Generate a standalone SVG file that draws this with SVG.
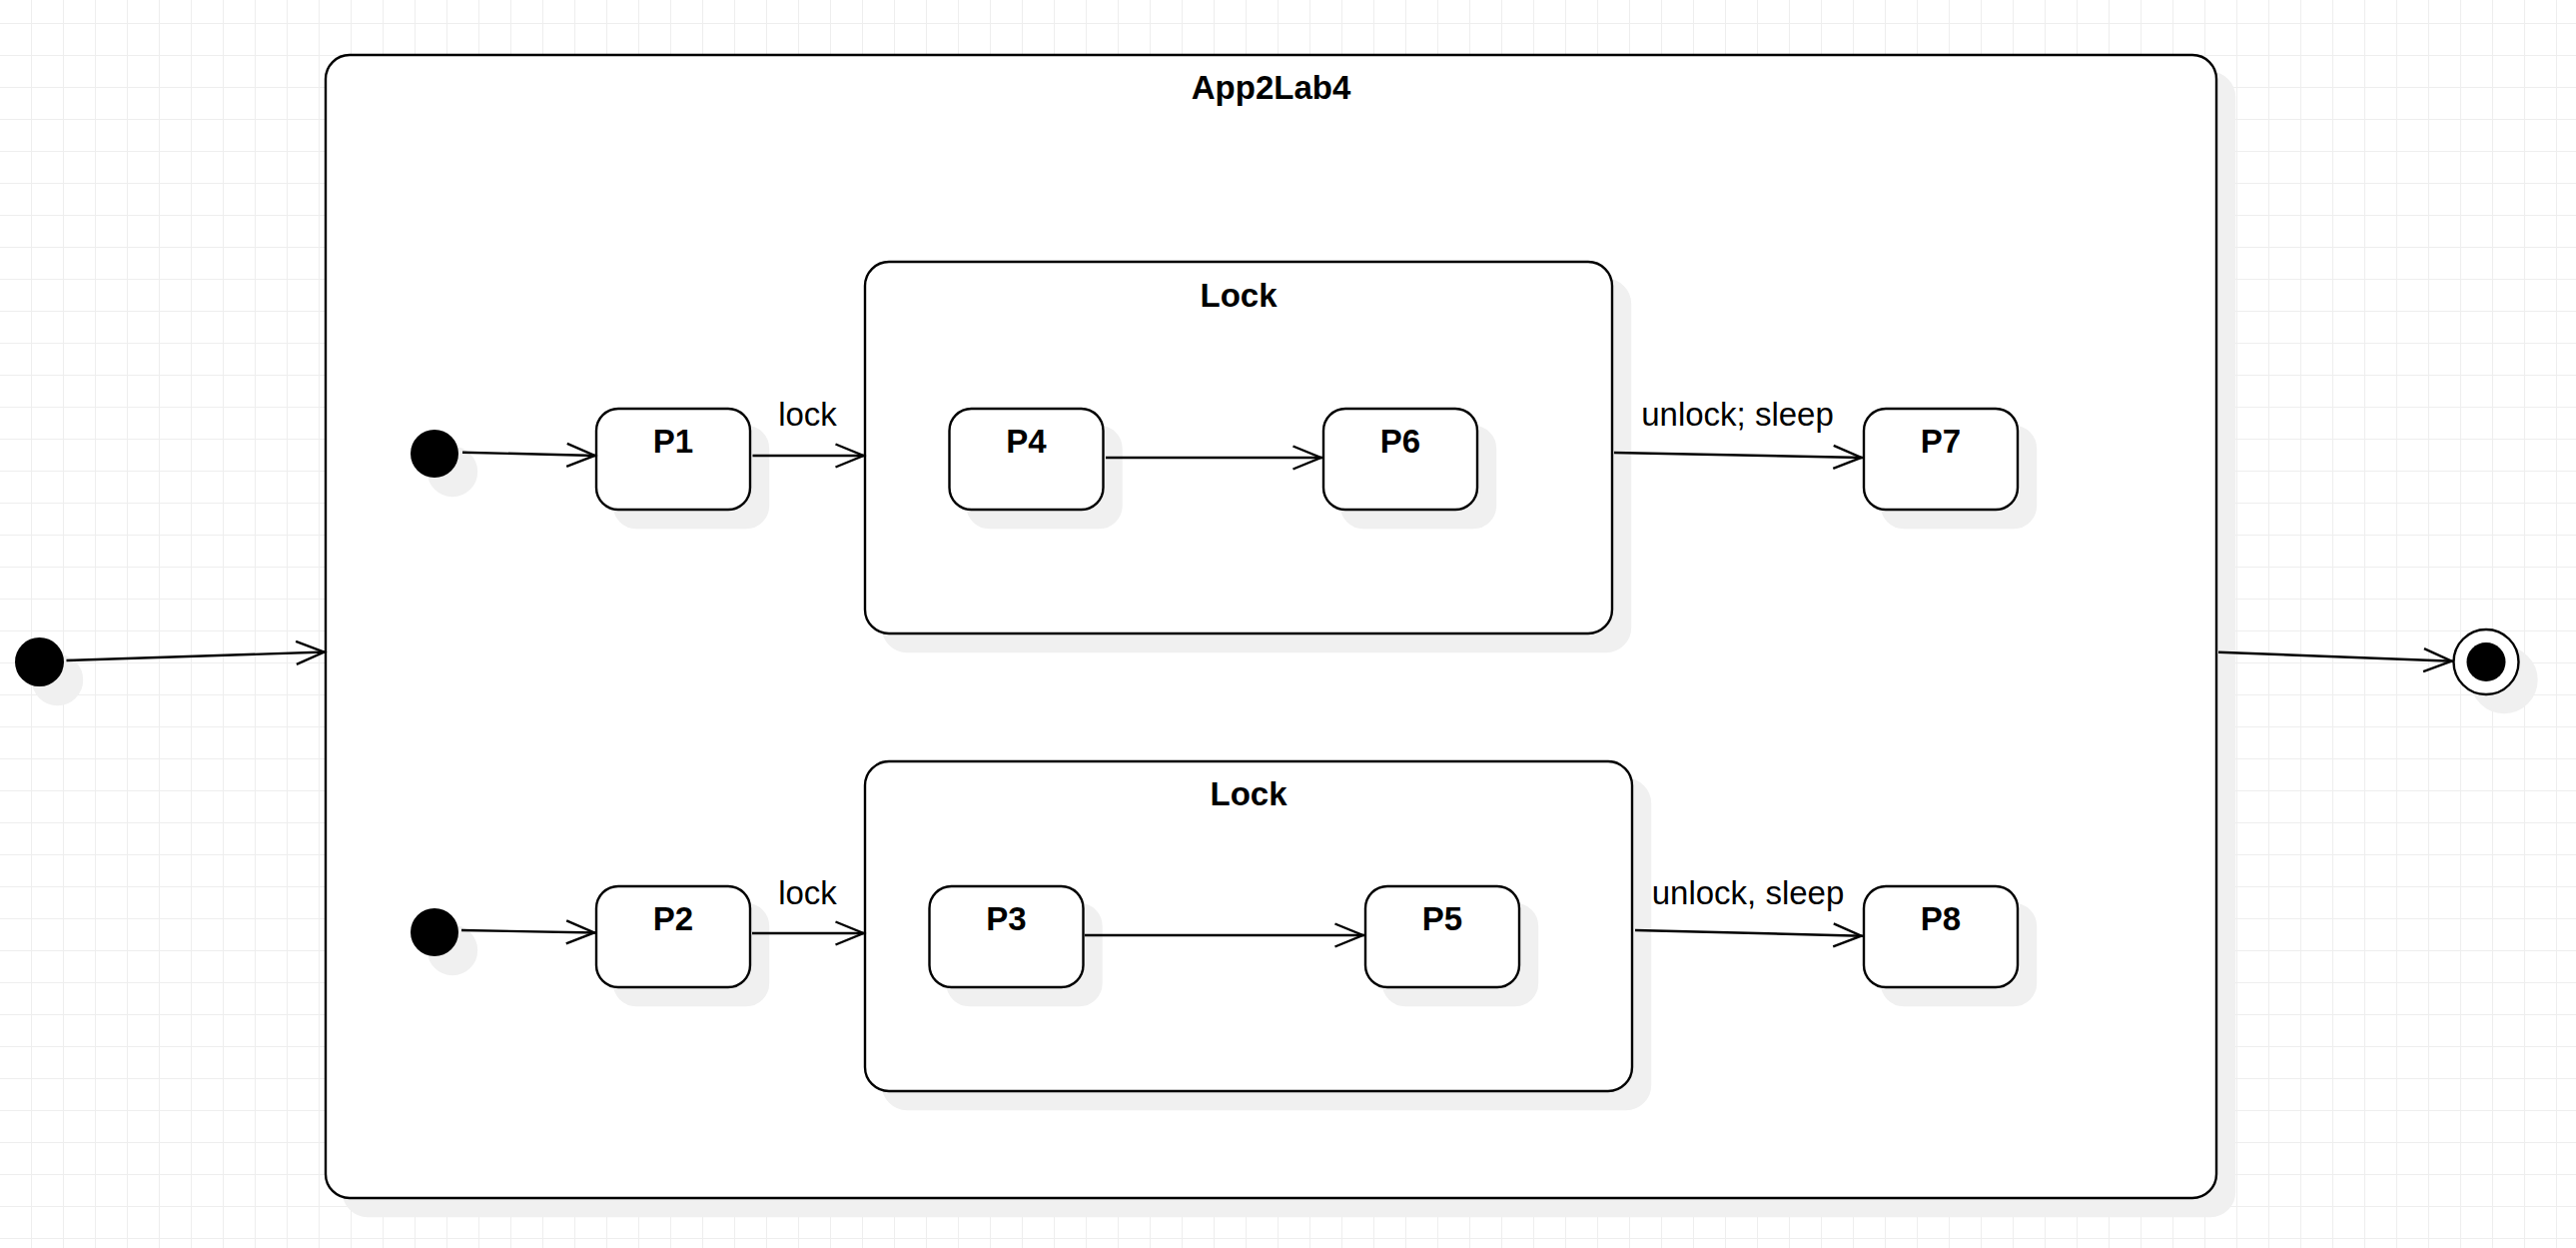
<svg xmlns="http://www.w3.org/2000/svg" width="2579" height="1249" viewBox="0 0 2579 1249">
  <defs>
    <pattern id="grid" patternUnits="userSpaceOnUse" x="31" y="23" width="32" height="32">
      <rect x="0" y="0" width="1" height="32" fill="#eeeeee"/>
      <rect x="0" y="0" width="32" height="1" fill="#eeeeee"/>
    </pattern>
    <marker id="open" markerUnits="userSpaceOnUse" viewBox="-32 -16 36 32" markerWidth="36" markerHeight="32" refX="1.5" refY="0" orient="auto">
      <path d="M -28 -11.5 L 0 0 L -28 11.5" fill="none" stroke="#000" stroke-width="2.4"/>
    </marker>
  </defs>
  <style>
    .state { fill: #ffffff; stroke: #000000; stroke-width: 2.4; }
    .shadow { fill: #f0f0f0; stroke: #f0f0f0; stroke-width: 2.4; }
    .dot { fill: #000000; }
    .edge { fill: none; stroke: #000000; stroke-width: 2.4; marker-end: url(#open); }
    .title { font-family: "Liberation Sans", Arial, sans-serif; font-weight: bold; font-size: 33px; text-anchor: middle; fill: #000; }
    .label { font-family: "Liberation Sans", Arial, sans-serif; font-size: 33px; text-anchor: middle; fill: #000; }
  </style>

  <!-- canvas -->
  <rect x="0" y="0" width="2579" height="1249" fill="#ffffff"/>
  <rect x="0" y="0" width="2579" height="1249" fill="url(#grid)"/>

  <!-- outer initial state -->
  <g id="start">
    <circle class="shadow" cx="57.5" cy="680.5" r="24.5"/>
    <circle class="dot" cx="39.5" cy="662.5" r="24.5"/>
  </g>

  <!-- composite state App2Lab4 -->
  <g id="app2lab4">
    <rect class="shadow" x="344" y="73" width="1893" height="1144" rx="24"/>
    <rect class="state" x="326" y="55" width="1893" height="1144" rx="24"/>
    <text class="title" x="1272.5" y="99">App2Lab4</text>
  </g>

  <!-- final state -->
  <g id="end">
    <circle class="shadow" cx="2507" cy="680.5" r="32.5"/>
    <circle class="state" cx="2489" cy="662.5" r="32.5"/>
    <circle class="dot" cx="2489" cy="662.5" r="19.5"/>
  </g>

  <!-- region 1 -->
  <g id="init1">
    <circle class="shadow" cx="453" cy="472" r="24"/>
    <circle class="dot" cx="435" cy="454" r="24"/>
  </g>
  <g id="p1">
    <rect class="shadow" x="615" y="427" width="154" height="101" rx="22"/>
    <rect class="state" x="597" y="409" width="154" height="101" rx="22"/>
    <text class="title" x="674" y="452.5">P1</text>
  </g>
  <g id="lock1">
    <rect class="shadow" x="884" y="280" width="748" height="372" rx="24"/>
    <rect class="state" x="866" y="262" width="748" height="372" rx="24"/>
    <text class="title" x="1240" y="306.5">Lock</text>
  </g>
  <g id="p4">
    <rect class="shadow" x="968.5" y="427" width="154" height="101" rx="22"/>
    <rect class="state" x="950.5" y="409" width="154" height="101" rx="22"/>
    <text class="title" x="1027.5" y="452.5">P4</text>
  </g>
  <g id="p6">
    <rect class="shadow" x="1343" y="427" width="154" height="101" rx="22"/>
    <rect class="state" x="1325" y="409" width="154" height="101" rx="22"/>
    <text class="title" x="1402" y="452.5">P6</text>
  </g>
  <g id="p7">
    <rect class="shadow" x="1884" y="427" width="154" height="101" rx="22"/>
    <rect class="state" x="1866" y="409" width="154" height="101" rx="22"/>
    <text class="title" x="1943" y="452.5">P7</text>
  </g>

  <!-- region 2 -->
  <g id="init2">
    <circle class="shadow" cx="453" cy="951" r="24"/>
    <circle class="dot" cx="435" cy="933" r="24"/>
  </g>
  <g id="p2">
    <rect class="shadow" x="615" y="905" width="154" height="101" rx="22"/>
    <rect class="state" x="597" y="887" width="154" height="101" rx="22"/>
    <text class="title" x="674" y="930.5">P2</text>
  </g>
  <g id="lock2">
    <rect class="shadow" x="884" y="780" width="768" height="330" rx="24"/>
    <rect class="state" x="866" y="762" width="768" height="330" rx="24"/>
    <text class="title" x="1250" y="806">Lock</text>
  </g>
  <g id="p3">
    <rect class="shadow" x="948.5" y="905" width="154" height="101" rx="22"/>
    <rect class="state" x="930.5" y="887" width="154" height="101" rx="22"/>
    <text class="title" x="1007.5" y="930.5">P3</text>
  </g>
  <g id="p5">
    <rect class="shadow" x="1385" y="905" width="154" height="101" rx="22"/>
    <rect class="state" x="1367" y="887" width="154" height="101" rx="22"/>
    <text class="title" x="1444" y="930.5">P5</text>
  </g>
  <g id="p8">
    <rect class="shadow" x="1884" y="905" width="154" height="101" rx="22"/>
    <rect class="state" x="1866" y="887" width="154" height="101" rx="22"/>
    <text class="title" x="1943" y="930.5">P8</text>
  </g>

  <!-- transitions -->
  <g id="edges">
    <line class="edge" x1="66.5" y1="661" x2="326" y2="652.5"/>
    <line class="edge" x1="2221" y1="652.7" x2="2456" y2="661.7"/>
    <line class="edge" x1="463" y1="452.7" x2="597" y2="456"/>
    <line class="edge" x1="753.5" y1="456" x2="866" y2="456"/>
    <line class="edge" x1="1107" y1="458" x2="1324" y2="458"/>
    <line class="edge" x1="1616" y1="453" x2="1865" y2="458"/>
    <line class="edge" x1="462" y1="931" x2="596.5" y2="933.5"/>
    <line class="edge" x1="753" y1="934" x2="866" y2="934"/>
    <line class="edge" x1="1086" y1="936" x2="1366" y2="936"/>
    <line class="edge" x1="1637" y1="931" x2="1865" y2="936.7"/>
    <text class="label" x="808.5" y="426">lock</text>
    <text class="label" x="808.5" y="904.5">lock</text>
    <text class="label" x="1739.5" y="426">unlock; sleep</text>
    <text class="label" x="1750" y="905">unlock, sleep</text>
  </g>
</svg>
